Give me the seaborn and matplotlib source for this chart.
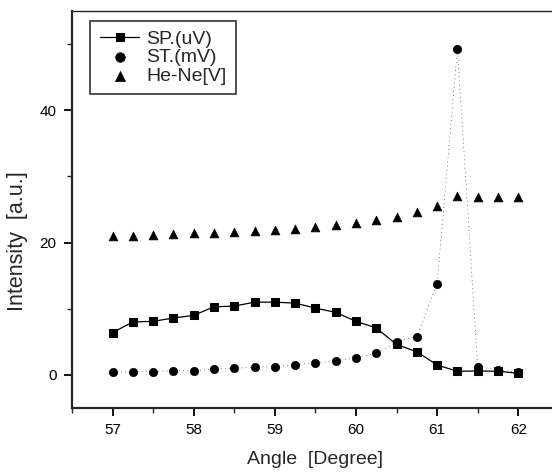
import pandas as pd
import seaborn as sns
import matplotlib.pyplot as plt

# angle steps and the three measured signals
angle = [57.0, 57.25, 57.5, 57.75, 58.0, 58.25, 58.5, 58.75, 59.0, 59.25, 59.5,
         59.75, 60.0, 60.25, 60.5, 60.75, 61.0, 61.25, 61.5, 61.75, 62.0]
sp_uv = [6.4, 8.0, 8.1, 8.6, 9.0, 10.3, 10.4, 11.0, 11.0, 10.85, 10.1,
         9.45, 8.1, 7.1, 4.6, 3.5, 1.5, 0.55, 0.6, 0.55, 0.25]
st_mv = [0.4, 0.5, 0.5, 0.65, 0.65, 0.85, 1.0, 1.15, 1.25, 1.55, 1.8,
         2.1, 2.6, 3.3, 5.0, 5.8, 13.8, 49.3, 1.2, 0.8, 0.4]
hene_v = [21.0, 21.0, 21.2, 21.3, 21.4, 21.5, 21.6, 21.8, 21.9, 22.1, 22.4,
          22.7, 23.0, 23.4, 23.8, 24.6, 25.5, 27.0, 26.9, 26.9, 26.9]

df = pd.DataFrame({"angle": angle, "sp": sp_uv, "st": st_mv, "hene": hene_v})

sns.set_style("ticks")
plt.rcParams['font.family'] = ['Liberation Sans', 'DejaVu Sans']
plt.rcParams['xtick.direction'] = 'out'
plt.rcParams['ytick.direction'] = 'out'

fig = plt.figure(figsize=(5.52, 4.72), dpi=100)
# right edge runs past the figure, like the cropped scan
ax = fig.add_axes([0.1304, 0.1356, 0.882, 0.841])

# faint dotted trace between the ST points
sns.lineplot(data=df, x="angle", y="st", ax=ax, color="black", lw=0.5,
             linestyle=(0, (1, 5)), legend=False)

sns.lineplot(data=df, x="angle", y="sp", ax=ax, color="black", lw=0.9,
             marker="s", markersize=5.5, markeredgecolor="black", label="SP.(uV)")
sns.scatterplot(data=df, x="angle", y="st", ax=ax, color="black", marker="o",
                s=36, edgecolor="black", label="ST.(mV)")
sns.scatterplot(data=df, x="angle", y="hene", ax=ax, color="black", marker="^",
                s=40, edgecolor="black", label="He-Ne[V]")

ax.set_xlim(56.5, 62.5)
ax.set_ylim(-5, 55)
ax.set_xticks([57, 58, 59, 60, 61, 62])
ax.set_xticks([56.5, 57.5, 58.5, 59.5, 60.5, 61.5], minor=True)
ax.set_yticks([0, 20, 40])
ax.set_yticks([10, 30, 50], minor=True)
ax.tick_params(which="major", length=6, width=1.3, pad=5, labelsize=11,
               colors="black")
ax.tick_params(which="minor", length=3.5, width=1.0)

for side in ["left", "bottom"]:
    ax.spines[side].set_linewidth(1.6)
ax.spines["top"].set_linewidth(1.0)
ax.spines["right"].set_linewidth(1.0)

ax.set_xlabel("Angle  [Degree]", fontsize=14)
ax.set_ylabel("Intensity  [a.u.]", fontsize=15.5)
ax.xaxis.set_label_coords(0.5, -0.108)
ax.yaxis.set_label_coords(-0.09, 0.42)

leg = ax.legend(loc="upper left", bbox_to_anchor=(0.038, 0.975), borderaxespad=0,
                fontsize=14, fancybox=False, frameon=True, handlelength=2.0,
                handletextpad=0.35, labelspacing=0.03, borderpad=0.5,
                markerscale=1.15)
leg.get_frame().set_edgecolor("black")
leg.get_frame().set_linewidth(1.2)

fig.savefig("out.png", dpi=100)
